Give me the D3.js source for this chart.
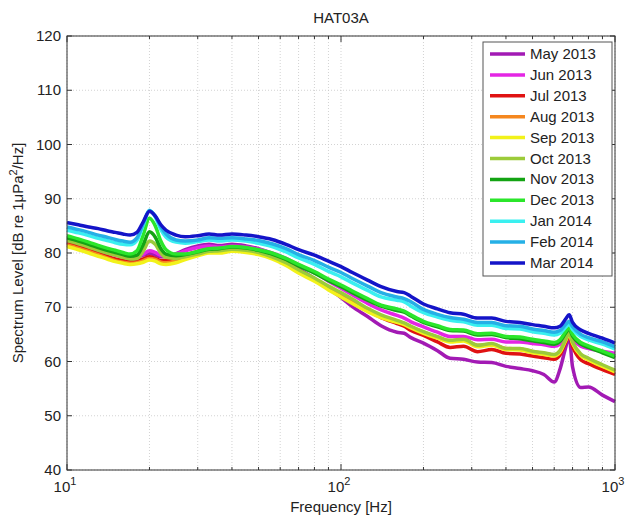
<!DOCTYPE html>
<html><head><meta charset="utf-8">
<script src="https://cdn.jsdelivr.net/npm/d3@7/dist/d3.min.js"></script>
<style>
body{margin:0;background:#fff;}
svg text{font-family:"Liberation Sans",Arial,sans-serif;fill:#222;}
</style></head>
<body><svg id="c" width="631" height="524"></svg>
<script>
const title = "HAT03A";
const xLabel = "Frequency [Hz]";
const yTicks = [40,50,60,70,80,90,100,110,120];
const xMajorTicks = [10,100,1000];
const xMajorExp = ["1","2","3"];
const xMinorTicks = [20,30,40,50,60,70,80,90,200,300,400,500,600,700,800,900];
const seriesNames = ["May 2013","Jun 2013","Jul 2013","Aug 2013","Sep 2013","Oct 2013","Nov 2013","Dec 2013","Jan 2014","Feb 2014","Mar 2014"];
const colors = ["#A21AB4","#E426E4","#E01212","#F5871F","#F2F21A","#9CCB3A","#13A313","#2BE62B","#3AF0F0","#25B0E6","#1414C8"];

const freqs = [10,11,12,13,14,15,16,17,18,19,20,21,22,23,25,27,30,33,36,40,45,50,56,63,70,80,90,100,110,125,140,160,170,180,200,225,250,280,315,355,400,450,500,550,600,630,660,680,700,750,800,900,1000];

const may2013 = [82.0,81.5,81.0,80.5,80.0,79.7,79.4,79.3,79.3,79.6,79.9,79.6,79.3,79.4,79.9,80.6,81.3,81.6,81.4,81.6,81.3,80.8,79.9,78.6,77.1,75.3,73.4,71.8,70.1,68.3,66.6,65.4,65.2,64.4,63.4,62.0,60.6,60.4,59.9,59.8,59.1,58.7,58.3,57.6,56.2,58.6,62.5,64.6,59.0,55.2,55.3,53.8,52.6];
const jun2013 = [82.2,81.7,81.1,80.5,80.0,79.6,79.3,79.1,79.3,79.8,80.4,80.1,79.6,79.5,79.8,80.4,81.0,81.3,81.1,81.3,81.1,80.7,80.0,79.0,77.8,76.4,74.8,73.5,72.3,70.7,69.5,68.5,68.0,67.3,66.4,65.4,64.6,64.6,64.0,64.1,63.6,63.6,63.3,63.1,62.8,63.2,64.6,65.3,64.2,62.8,62.4,61.9,61.5];
const jul2013 = [81.8,81.2,80.6,80.0,79.4,78.9,78.6,78.4,78.5,78.9,79.3,79.0,78.6,78.6,79.0,79.6,80.3,80.7,80.6,80.8,80.6,80.2,79.4,78.2,76.8,75.2,73.5,72.2,71.0,69.4,68.1,67.0,66.5,65.7,64.8,63.6,62.6,62.8,61.8,62.2,61.5,61.4,61.0,60.7,60.4,61.2,63.5,64.8,62.8,60.3,59.6,58.5,57.6];
const aug2013 = [81.5,80.9,80.3,79.7,79.1,78.6,78.3,78.1,78.2,78.6,79.0,78.8,78.3,78.2,78.6,79.2,79.9,80.3,80.3,80.5,80.3,79.9,79.1,77.9,76.5,75.0,73.4,72.1,70.9,69.4,68.3,67.4,67.0,66.4,65.4,64.5,63.8,64.0,63.0,63.2,62.4,62.3,61.8,61.5,61.2,61.9,64.0,65.1,63.5,61.2,60.4,59.2,58.2];
const sep2013 = [81.2,80.6,80.0,79.4,78.9,78.4,78.1,77.9,78.0,78.3,78.7,78.5,78.0,77.9,78.2,78.8,79.5,80.0,80.0,80.3,80.1,79.7,78.9,77.7,76.3,74.8,73.2,71.9,70.7,69.2,68.1,67.2,66.8,66.2,65.2,64.3,63.6,63.8,62.7,63.0,62.2,62.1,61.6,61.3,61.0,61.7,63.8,65.0,63.3,61.1,60.3,59.1,58.1];
const oct2013 = [82.3,81.7,81.1,80.5,80.0,79.6,79.2,78.9,79.0,80.4,82.2,81.6,80.0,79.2,79.0,79.3,79.8,80.3,80.4,80.7,80.5,80.1,79.3,78.2,76.9,75.4,73.9,72.7,71.5,69.8,68.6,67.6,67.1,66.5,65.5,64.6,63.9,64.1,63.0,63.3,62.4,62.4,61.9,61.6,61.3,62.0,64.0,65.2,63.6,61.4,60.6,59.4,58.4];
const nov2013 = [82.8,82.2,81.6,81.0,80.5,80.1,79.7,79.4,79.6,81.6,83.9,82.9,80.8,79.8,79.5,79.7,80.2,80.7,80.8,81.1,80.9,80.5,79.8,78.8,77.6,76.3,74.9,73.8,72.7,71.3,70.2,69.4,69.1,68.4,67.2,66.4,65.7,65.6,64.9,65.0,64.4,64.2,63.8,63.5,63.2,63.7,65.2,66.0,64.7,63.2,62.6,61.6,60.7];
const dec2013 = [83.2,82.6,82.0,81.4,80.9,80.5,80.1,79.8,80.4,83.4,86.4,85.0,82.2,80.6,79.8,79.8,80.3,80.8,80.9,81.2,81.0,80.6,80.0,79.0,77.9,76.6,75.2,74.1,73.0,71.6,70.4,69.7,69.3,68.6,67.4,66.6,65.9,65.8,65.1,65.2,64.6,64.5,64.1,63.8,63.5,64.0,65.5,66.2,65.0,63.5,62.9,61.9,61.0];
const jan2014 = [84.2,83.7,83.2,82.7,82.3,81.9,81.6,81.5,82.3,85.2,87.9,86.6,84.3,82.9,82.0,81.8,82.1,82.4,82.2,82.4,82.2,81.8,81.2,80.2,79.1,77.9,76.6,75.6,74.5,73.1,71.9,71.3,71.0,70.2,69.0,68.2,67.6,67.3,66.7,66.7,66.1,66.0,65.5,65.2,64.9,65.2,66.3,66.9,65.9,64.6,64.0,63.2,62.3];
const feb2014 = [84.8,84.3,83.8,83.3,82.9,82.5,82.2,82.0,82.8,85.5,87.8,86.8,84.8,83.5,82.4,82.2,82.4,82.8,82.7,82.8,82.6,82.3,81.7,80.8,79.7,78.6,77.4,76.4,75.3,73.9,72.7,71.9,71.6,71.0,69.6,68.7,68.1,67.8,67.2,67.2,66.6,66.5,66.0,65.7,65.4,65.7,66.8,67.4,66.4,65.0,64.4,63.6,62.7];
const mar2014 = [85.6,85.2,84.8,84.5,84.1,83.8,83.5,83.3,83.8,85.8,87.7,86.8,85.2,84.2,83.3,83.0,83.2,83.5,83.3,83.5,83.3,83.0,82.5,81.6,80.6,79.6,78.5,77.5,76.4,75.0,73.8,72.9,72.7,72.0,70.6,69.7,69.0,68.7,68.0,68.0,67.4,67.2,66.8,66.5,66.2,66.5,67.8,68.6,67.2,65.8,65.2,64.3,63.4];

const allSeries = [may2013,jun2013,jul2013,aug2013,sep2013,oct2013,nov2013,dec2013,jan2014,feb2014,mar2014];

const svg = d3.select("#c");
const m = {l:67, r:615, t:36, b:470};
const x = d3.scaleLog().domain([10,1000]).range([m.l, m.r]);
const y = d3.scaleLinear().domain([40,120]).range([m.b, m.t]);

// grid
const grid = svg.append("g").attr("stroke","#c8c8c8").attr("stroke-width",0.8).attr("stroke-dasharray","1,2");
xMinorTicks.concat(xMajorTicks).forEach(f=>{
  grid.append("line").attr("x1",x(f)).attr("x2",x(f)).attr("y1",m.t).attr("y2",m.b);
});
yTicks.forEach(v=>{
  grid.append("line").attr("x1",m.l).attr("x2",m.r).attr("y1",y(v)).attr("y2",y(v));
});

// lines
const line = d3.line().x((d,i)=>x(freqs[i])).y(d=>y(d)).curve(d3.curveMonotoneX);
const gl = svg.append("g");
allSeries.forEach((s,i)=>{
  gl.append("path").attr("d",line(s)).attr("fill","none").attr("stroke",colors[i])
    .attr("stroke-width",3.5).attr("stroke-linejoin","round");
});

// frame + ticks
const ax = svg.append("g").attr("stroke","#333").attr("stroke-width",1);
ax.append("rect").attr("x",m.l).attr("y",m.t).attr("width",m.r-m.l).attr("height",m.b-m.t).attr("fill","none");
yTicks.forEach(v=>{
  ax.append("line").attr("x1",m.l).attr("x2",m.l+5).attr("y1",y(v)).attr("y2",y(v));
  ax.append("line").attr("x1",m.r-5).attr("x2",m.r).attr("y1",y(v)).attr("y2",y(v));
});
xMajorTicks.forEach(f=>{
  ax.append("line").attr("x1",x(f)).attr("x2",x(f)).attr("y1",m.b).attr("y2",m.b-6);
  ax.append("line").attr("x1",x(f)).attr("x2",x(f)).attr("y1",m.t).attr("y2",m.t+6);
});
xMinorTicks.forEach(f=>{
  ax.append("line").attr("x1",x(f)).attr("x2",x(f)).attr("y1",m.b).attr("y2",m.b-3);
  ax.append("line").attr("x1",x(f)).attr("x2",x(f)).attr("y1",m.t).attr("y2",m.t+3);
});

// tick labels
const yl = svg.append("g").attr("font-size",15);
yTicks.forEach(v=>{
  yl.append("text").attr("x",m.l-6).attr("y",y(v)+5).attr("text-anchor","end").text(v);
});
xMajorTicks.forEach((f,i)=>{
  const t = svg.append("text").attr("x",x(f)-2).attr("y",m.b+22).attr("text-anchor","middle").attr("font-size",15);
  t.append("tspan").text("10");
  t.append("tspan").attr("dy",-7).attr("font-size",11).text(xMajorExp[i]);
});

// titles
svg.append("text").attr("x",(m.l+m.r)/2).attr("y",23).attr("text-anchor","middle").attr("font-size",15).text(title);
svg.append("text").attr("x",(m.l+m.r)/2).attr("y",512).attr("text-anchor","middle").attr("font-size",15).text(xLabel);
const ylab = svg.append("text").attr("transform",`translate(23,${(m.t+m.b)/2}) rotate(-90)`).attr("text-anchor","middle").attr("font-size",15);
ylab.append("tspan").text("Spectrum Level [dB re 1\u03bcPa");
ylab.append("tspan").attr("dy",-6).attr("font-size",11).text("2");
ylab.append("tspan").attr("dy",6).text("/Hz]");

// legend
const lg = svg.append("g");
lg.append("rect").attr("x",483).attr("y",42).attr("width",129).attr("height",234).attr("fill","#fff").attr("stroke","#555").attr("stroke-width",1);
seriesNames.forEach((n,i)=>{
  const yy = 54 + i*20.9;
  lg.append("line").attr("x1",490).attr("x2",525).attr("y1",yy).attr("y2",yy).attr("stroke",colors[i]).attr("stroke-width",3.5);
  lg.append("text").attr("x",530).attr("y",yy+5).attr("font-size",15).text(n);
});
</script></body></html>
